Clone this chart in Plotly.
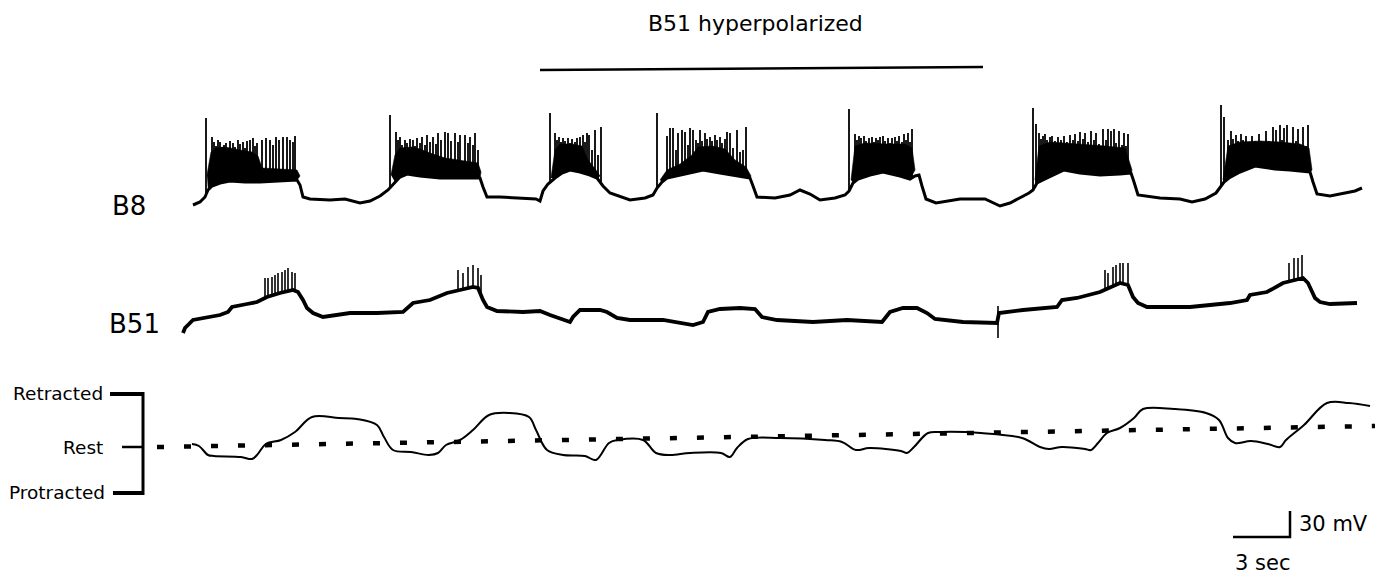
import numpy as np
import plotly.graph_objects as go

# ---------------- data (page units: x = time, y = screen) -------------
b8_x = [193,200,205,208,212,220,230,245,260,280,297,300,303,310,330,345,360,370,380,388,395,400,407,420,440,460,480,483,487,500,520,536,540,543,548,555,562,570,580,590,597,603,610,630,645,653,657,662,667,685,703,720,733,750,753,757,775,790,800,810,820,835,845,849,853,858,870,883,900,910,915,919,922,926,936,960,985,1000,1010,1020,1029,1033,1037,1043,1064,1080,1100,1120,1131,1134,1138,1160,1180,1192,1205,1216,1220,1224,1229,1240,1255,1275,1290,1310,1313,1317,1330,1345,1355,1362]
b8_y = [205,202,197,190,186,183,181,182,182,181,180,185,197,199,200,199,203,201,196,190,182,177,174,176,178,178,178,187,197,197,198,199,201,191,184,178,173,170,172,175,178,186,193,200,198,195,188,182,178,174,170,173,175,178,186,197,198,195,190,194,200,198,195,191,183,179,175,172,176,179,176,175,186,199,203,199,199,206,203,198,193,190,183,180,170,173,175,174,173,182,195,198,199,202,199,193,188,182,178,172,166,169,170,172,182,194,196,193,191,188]

# B8 spikes per burst: (time, peak)
b8_spike_x = [
    [206,212,214,216,218,220,222,224,226,228,230,233,235,238,240,243,245,247,250,253,255,257,262,266,270,273,276,279,283,287,290,293,295],
    [390,396,398,400,402,405,407,410,413,415,417,420,422,425,427,430,433,436,438,441,445,448,451,455,458,460,465,468,470,473,475,478],
    [550,555,557,559,561,563,565,568,570,572,575,577,580,583,585,587,589,592,595,598,601],
    [657,667,670,673,676,678,682,685,688,690,693,696,698,700,702,705,707,710,712,715,717,720,722,725,727,730,733,737,740,743,746],
    [849,855,857,859,861,864,866,869,872,874,876,878,880,883,885,888,890,892,895,897,899,902,904,906,908,910,912],
    [1033,1036,1039,1041,1043,1045,1047,1050,1052,1055,1058,1061,1064,1067,1070,1073,1075,1078,1080,1083,1085,1088,1091,1094,1096,1099,1103,1106,1108,1111,1114,1116,1119,1122,1124,1126,1128],
    [1221,1224,1228,1231,1233,1236,1238,1241,1243,1246,1249,1252,1255,1259,1262,1266,1269,1273,1276,1280,1282,1284,1287,1290,1293,1296,1298,1301,1303,1306,1308],
]
b8_spike_peak = [
    [118,137,142,146,140,142,147,145,143,148,141,143,147,140,144,142,148,141,140,138,146,143,140,138,140,145,137,140,137,137,140,142,136],
    [115,132,140,137,145,140,143,139,140,146,138,143,137,145,135,142,137,144,133,140,132,133,141,133,142,135,135,143,137,145,133,150],
    [113,133,140,137,142,138,141,138,143,139,142,138,137,135,142,133,135,150,130,155,127],
    [113,136,128,128,150,133,130,132,145,128,130,140,143,130,141,133,139,137,141,135,140,137,143,139,132,133,148,130,152,150,127],
    [109,134,140,136,138,136,141,138,137,142,138,140,137,136,141,138,143,138,137,141,136,142,134,140,133,142,129],
    [108,124,133,139,136,134,140,137,136,141,137,140,136,142,135,140,134,141,132,139,133,142,131,140,133,144,129,140,129,131,129,143,131,145,133,146,134],
    [105,117,140,131,139,135,141,134,140,136,142,136,141,134,143,131,141,127,130,125,140,128,125,143,127,141,129,145,127,146,125],
]
# B8 dense burst envelope (top of the merged spikes)
b8_env_x = [
    [207,211,216,225,240,252,258,262,297,300],
    [391,395,400,412,420,430,445,460,478,481],
    [551,555,560,572,582,588,596,600],
    [660,667,680,692,698,712,725,735,746,751],
    [851,855,865,885,905,912,915],
    [1035,1039,1050,1065,1085,1105,1125,1132],
    [1223,1228,1240,1260,1280,1300,1309,1312],
]
b8_env_top = [
    [175,152,148,147,150,152,156,168,170,176],
    [175,155,148,147,149,153,158,160,163,172],
    [178,150,144,144,146,160,170,176],
    [180,170,164,155,147,146,149,160,167,176],
    [180,146,143,144,144,148,170],
    [180,146,142,143,145,146,148,170],
    [180,146,142,141,142,144,148,170],
]

b51_x = [183,185,193,203,220,228,232,247,257,267,280,293,298,303,307,313,323,350,377,403,413,430,447,460,473,478,483,487,497,523,540,550,570,573,580,600,607,617,630,663,680,693,703,708,720,740,755,762,777,813,847,870,882,890,903,917,927,935,963,997,999,1023,1057,1062,1077,1100,1120,1128,1133,1138,1147,1190,1230,1247,1250,1267,1283,1303,1308,1315,1320,1330,1357]
b51_y = [333,328,320,318,315,312,307,304,302,297,293,290,292,300,308,313,317,313,313,312,303,300,293,290,287,288,300,307,311,312,311,315,322,317,310,310,312,318,320,320,323,325,322,312,309,308,309,317,320,322,320,321,322,312,308,308,313,319,322,323,313,310,307,300,298,292,283,285,297,303,307,307,303,300,295,292,283,278,283,298,302,304,303]
b51_spike_x = [265,268,272,275,278,282,285,288,292,295,
               458,463,468,473,478,481,
               1105,1108,1113,1116,1120,1123,1128,
               1289,1294,1298,1302]
b51_spike_peak = [278,278,277,275,273,272,270,268,272,273,
                  270,273,267,265,268,275,
                  270,273,267,265,263,263,263,
                  263,258,258,255]
b51_artifact_x = [998, 998]
b51_artifact_y = [306, 338]

move_x = [192,199,208,214,241,252,257,266,281,295,312,339,357,377,384,393,411,429,438,446,460,473,489,509,529,536,547,563,585,596,609,618,643,656,670,690,721,730,737,748,780,825,842,856,869,901,907,914,928,941,981,1022,1040,1049,1062,1085,1091,1098,1107,1120,1134,1143,1174,1206,1219,1228,1235,1251,1268,1280,1286,1304,1327,1349,1370]
move_y = [444,446,455,456,457,459,455,444,440,432,417,418,419,425,437,450,452,455,453,445,440,430,415,413,417,430,450,455,456,460,443,440,440,453,455,453,453,457,448,439,438,440,442,450,448,451,453,447,433,432,433,438,447,449,447,449,450,443,433,428,418,409,409,413,420,438,443,441,444,447,440,425,403,403,406]
rest_x = [157, 1375]
rest_y = [447, 426]

hyper_x = [540, 983]
hyper_y = [70, 67]

# ---------------- layout geometry (not data) ----------------
W, H = 1382, 575
FONT = "DejaVu Sans"
BLACK = "#000000"

fig = go.Figure()

def add_line(x, y, width, dash=None, shape="linear"):
    fig.add_trace(go.Scatter(x=x, y=y, mode="lines", hoverinfo="skip",
                             line=dict(color=BLACK, width=width, dash=dash, shape=shape)))

# dotted rest line
add_line(rest_x, rest_y, 4.5, dash="7px,20px")

# B8 dense bursts as filled envelopes
b8x = np.array(b8_x, float); b8y = np.array(b8_y, float)
for ex, et in zip(b8_env_x, b8_env_top):
    sel = (b8x > ex[0]) & (b8x < ex[-1])
    px = list(ex) + list(b8x[sel][::-1])
    py = list(et) + list(b8y[sel][::-1])
    fig.add_trace(go.Scatter(x=px, y=py, mode="lines", fill="toself", fillcolor=BLACK,
                             line=dict(color=BLACK, width=0.6), hoverinfo="skip"))

# B8 spikes
sx, sy = [], []
for xs, ps in zip(b8_spike_x, b8_spike_peak):
    for xv, pv in zip(xs, ps):
        base = float(np.interp(xv, b8x, b8y))
        sx += [xv, xv, None]; sy += [base, pv, None]
add_line(sx, sy, 1.8)
add_line(b8_x, b8_y, 3)

# B51
b51x = np.array(b51_x, float); b51y = np.array(b51_y, float)
sx, sy = [], []
for xv, pv in zip(b51_spike_x, b51_spike_peak):
    base = float(np.interp(xv, b51x, b51y))
    sx += [xv, xv, None]; sy += [base, pv, None]
add_line(sx, sy, 1.6)
add_line(b51_x, b51_y, 3.8)
add_line(b51_artifact_x, b51_artifact_y, 1.6)

# movement trace
add_line(move_x, move_y, 2, shape="spline")

# hyperpolarisation bar
add_line(hyper_x, hyper_y, 2.5)

# bracket for movement scale
add_line([110, 143], [394, 394], 4)
add_line([143, 143], [392, 495], 3)
add_line([122, 143], [447, 447], 2.5)
add_line([113, 143], [493, 493], 4)

# scale bar
add_line([1233, 1290, 1290], [537, 537, 511], 2.5)

def text(s, x, y, size, xanchor="left"):
    fig.add_annotation(x=x, y=y, text=s, showarrow=False, xref="x", yref="y",
                       xanchor=xanchor, yanchor="middle", borderpad=0,
                       font=dict(family=FONT, size=size, color=BLACK))

text("B51 hyperpolarized", 755, 23, 22, "center")
text("B8", 111, 206, 26)
text("B51", 108, 324, 26)
text("Retracted", 104, 393, 18.5, "right")
text("Rest", 104, 447, 18.5, "right")
text("Protracted", 106, 492, 18.5, "right")
text("30 mV", 1298, 524, 21)
text("3 sec", 1234, 563, 21)

fig.update_layout(width=W, height=H, margin=dict(l=0, r=0, t=0, b=0),
                  paper_bgcolor="white", plot_bgcolor="white", showlegend=False,
                  xaxis=dict(range=[0, W], visible=False, fixedrange=True),
                  yaxis=dict(range=[H, 0], visible=False, fixedrange=True))
fig.write_html("out.html")
